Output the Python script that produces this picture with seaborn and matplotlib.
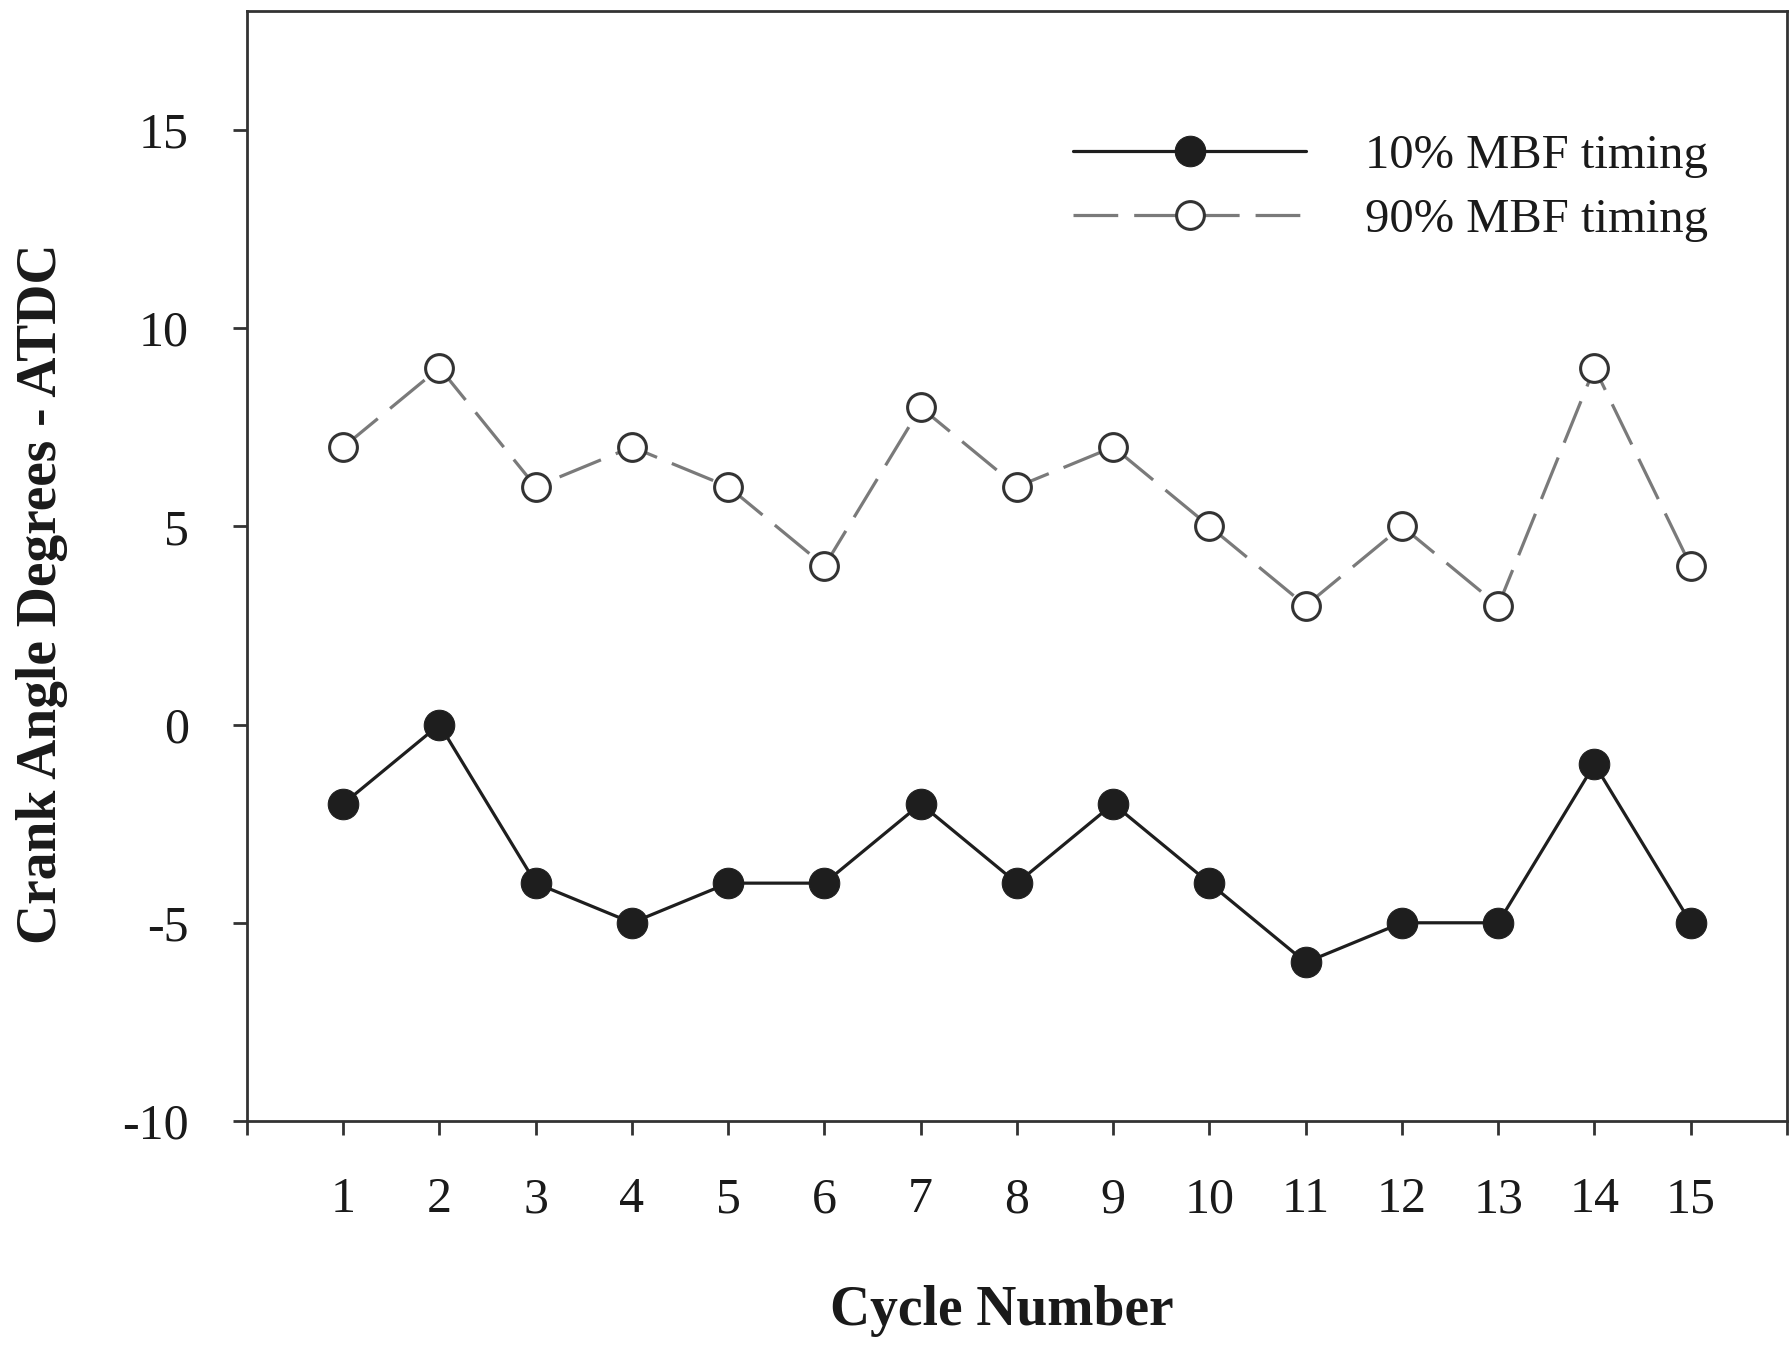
import matplotlib
matplotlib.use("Agg")
import matplotlib.pyplot as plt
import seaborn as sns
import pandas as pd

cycles = list(range(1, 16))
mbf10 = [-2, 0, -4, -5, -4, -4, -2, -4, -2, -4, -6, -5, -5, -1, -5]
mbf90 = [7, 9, 6, 7, 6, 4, 8, 6, 7, 5, 3, 5, 3, 9, 4]
labels = ["10% MBF timing", "90% MBF timing"]
yticks = [-10, -5, 0, 5, 10, 15]

sns.set_style("ticks")
plt.rcParams["font.family"] = ["Liberation Serif", "DejaVu Serif"]
plt.rcParams["axes.unicode_minus"] = False

df = pd.DataFrame({"cycle": cycles, "m10": mbf10, "m90": mbf90})

fig = plt.figure(figsize=(17.9, 13.47), dpi=100)
ax = fig.add_axes([247/1790, 1-1121/1347, (1787-247)/1790, (1121-11)/1347])

sns.lineplot(data=df, x="cycle", y="m10", ax=ax, color="#1e1e1e", linewidth=2.3,
             marker="o", markersize=22, markerfacecolor="#1e1e1e",
             markeredgecolor="#1e1e1e", label=labels[0], zorder=3)
sns.lineplot(data=df, x="cycle", y="m90", ax=ax, color="#7a7a7a", linewidth=2.3,
             linestyle=(0, (14, 5)), marker="o", markersize=20, markerfacecolor="white",
             markeredgecolor="#333333", markeredgewidth=2.2, label=labels[1], zorder=3)

ax.set_xlim(0, 16)
ax.set_ylim(-10, 18)
ax.set_xticks(range(0, 17))
ax.set_xticklabels([""] + [str(c) for c in cycles] + [""])
ax.set_yticks(yticks)
ax.set_yticklabels([str(t) for t in yticks])

for s in ax.spines.values():
    s.set_visible(True)
    s.set_linewidth(2.0)
    s.set_color("#333333")

ax.tick_params(axis="both", direction="out", length=10, width=2.0, color="#333333",
               labelsize=36, labelcolor="#1a1a1a")
ax.tick_params(axis="x", pad=30)
ax.tick_params(axis="y", pad=32)

ax.set_xlabel("Cycle Number", fontsize=40, fontweight="bold", color="#1a1a1a")
ax.set_ylabel("Crank Angle Degrees - ATDC", fontsize=40, fontweight="bold", color="#1a1a1a")
ax.xaxis.set_label_coords(0.49, -0.148)
ax.yaxis.set_label_coords(-0.116, 0.475)

leg = ax.legend(loc="center left", bbox_to_anchor=(1073/1790, 1-188/1347),
                bbox_transform=fig.transFigure, frameon=False, fontsize=35,
                handlelength=4.8, handletextpad=1.2, borderpad=0, borderaxespad=0,
                labelspacing=0.4, numpoints=1)
for t in leg.get_texts():
    t.set_color("#1a1a1a")

fig.savefig("out.png", dpi=100)
